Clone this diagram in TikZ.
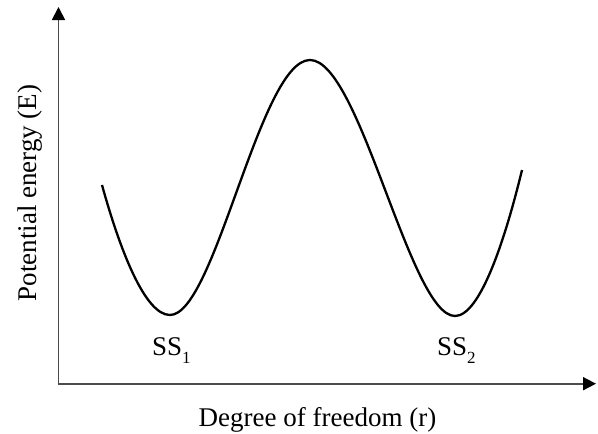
\documentclass[tikz,border=0pt]{standalone}
\usepackage{fontspec}
\setmainfont{Liberation Serif}
\usetikzlibrary{arrows.meta}
\begin{document}
\begin{tikzpicture}[x=1pt,y=-1pt,
  axis/.style={line width=1.8pt,draw=black!70,-{Triangle[length=13pt,width=13pt,fill=black,color=black]}},
  curve/.style={line width=2.3pt},
  lbl/.style={font=\fontsize{27}{30}\selectfont,inner sep=0pt},
  sub/.style={}]
\useasboundingbox (0,0) rectangle (598,434);
\coordinate (ybot) at (58.5,385);
\coordinate (ytip) at (58.5,7);
\coordinate (xleft) at (57.6,383.7);
\coordinate (xtip) at (596,383.7);
\draw[axis] (ybot) -- (ytip);
\draw[axis] (xleft) -- (xtip);
\draw[curve] (102,185) .. controls (120,250) and (145,315) .. (170,315)
  .. controls (215,315) and (260,60) .. (310,60)
  .. controls (360,60) and (410,316) .. (455,316)
  .. controls (480,316) and (505,240) .. (522,170);
\node[lbl,anchor=base west] (ss1) at (152,355) {SS\raisebox{-8pt}{\fontsize{17}{17}\selectfont 1}};
\node[lbl,anchor=base west] (ss2) at (437,355) {SS\raisebox{-8pt}{\fontsize{17}{17}\selectfont 2}};
\node[lbl,rotate=90,anchor=base] (ylab) at (36,193) {Potential energy (E)};
\node[lbl,anchor=base] (xlab) at (317.5,426) {Degree of freedom (r)};
\end{tikzpicture}
\end{document}
